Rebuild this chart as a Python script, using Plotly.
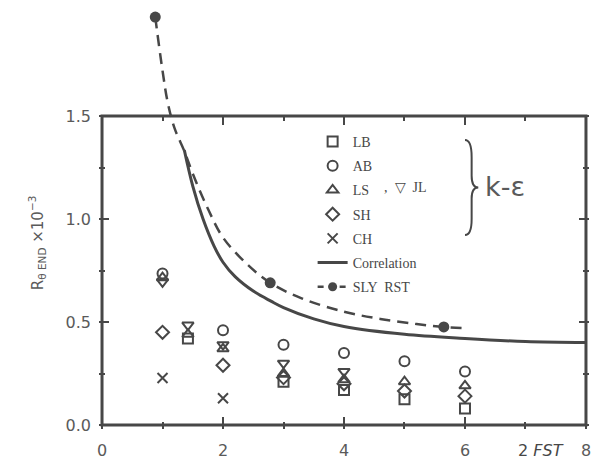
import plotly.graph_objects as go

# ---- data ----
lb_x = [1.42, 3, 4, 5, 6]
lb_y = [0.42, 0.21, 0.17, 0.125, 0.08]
ab_x = [1, 2, 3, 4, 5, 6]
ab_y = [0.735, 0.46, 0.39, 0.35, 0.31, 0.26]
ls_x = [1, 1.42, 2, 3, 4, 5, 6]
ls_y = [0.715, 0.44, 0.37, 0.25, 0.22, 0.21, 0.19]
jl_x = [1, 1.42, 2, 3, 4]
jl_y = [0.695, 0.485, 0.39, 0.30, 0.26]
sh_x = [1, 2, 3, 4, 5, 6]
sh_y = [0.45, 0.29, 0.23, 0.20, 0.165, 0.14]
ch_x = [1, 2]
ch_y = [0.228, 0.13]

corr_x = [1.36, 1.5, 1.67, 1.85, 2.0, 2.2, 2.5, 2.8, 3.0, 3.5, 4.0, 5.0, 6.0, 7.0, 8.0]
corr_y = [1.335, 1.16, 1.0, 0.87, 0.79, 0.72, 0.65, 0.60, 0.57, 0.515, 0.478, 0.44, 0.42, 0.405, 0.40]

rst_line_x = [0.88, 1.0, 1.09, 1.2, 1.36, 1.5, 1.75, 2.0, 2.4, 2.78, 3.3, 4.0, 4.6, 5.2, 5.65, 6.0]
rst_line_y = [1.98, 1.72, 1.56, 1.44, 1.33, 1.22, 1.05, 0.91, 0.78, 0.69, 0.615, 0.55, 0.515, 0.49, 0.476, 0.47]
rst_pts_x = [0.88, 2.78, 5.65]
rst_pts_y = [1.98, 0.69, 0.476]

x_ticks = [0, 2, 4, 6, 8]
x_ticklabels = ["0", "2", "4", "6", "8"]
y_ticks = [0.0, 0.5, 1.0, 1.5]
y_ticklabels = ["0.0", "0.5", "1.0", "1.5"]

INK = "#474747"
TXT = "#5a5a5a"
MS = 10

# pixel geometry
L, R, T, B = 99, 2, 3, 39
PW, PH = 593 - L - R, 468 - T - B


def px_x(p):
    return (p - L) / PW


def px_y(p):
    return (468 - B - p) / PH


fig = go.Figure()


def pts(x, y, name, symbol, group, show=True):
    fig.add_trace(go.Scatter(
        x=x, y=y, mode="markers", name=name, legendgroup=group, showlegend=show,
        marker=dict(symbol=symbol, size=MS, color=INK, line=dict(color=INK, width=2)),
    ))


pts(lb_x, lb_y, "LB", "square-open", "g1")
pts(ab_x, ab_y, "AB", "circle-open", "g2")
pts(ls_x, ls_y, "LS", "triangle-up-open", "g3")
pts(sh_x, sh_y, "SH", "diamond-open", "g4")
pts(ch_x, ch_y, "CH", "x-thin-open", "g5")
pts(jl_x, jl_y, "JL", "triangle-down-open", "g3", show=False)

fig.add_trace(go.Scatter(
    x=corr_x, y=corr_y, mode="lines", name="Correlation", legendgroup="g6",
    line=dict(color=INK, width=3, shape="spline"),
))
fig.add_trace(go.Scatter(
    x=rst_line_x, y=rst_line_y, mode="lines", name="SLY  RST", legendgroup="g7",
    line=dict(color=INK, width=2.5, dash="11px,7px", shape="spline"), showlegend=False,
))
fig.add_trace(go.Scatter(
    x=rst_pts_x, y=rst_pts_y, mode="markers", name="SLY  RST", legendgroup="g7",
    marker=dict(symbol="circle", size=11, color=INK), cliponaxis=False, showlegend=False,
))
fig.add_trace(go.Scatter(
    x=[None], y=[None], mode="lines+markers", name="SLY  RST", legendgroup="g7",
    line=dict(color=INK, width=2.5, dash="6px,5px"),
    marker=dict(symbol="circle", size=9, color=INK),
))
fig.add_trace(go.Scatter(x=[None], y=[None], xaxis="x2", showlegend=False, hoverinfo="skip"))

# frame box (0..8, 0..1.5)
fig.add_shape(type="rect", xref="x", yref="y", x0=0, x1=8, y0=0, y1=1.5,
              line=dict(color=INK, width=3), layer="above")
# brace for k-epsilon group
fig.add_shape(type="path", xref="x", yref="y",
              path="M 6.0,1.383 Q 6.11,1.383 6.11,1.30 L 6.11,1.21 Q 6.11,1.153 6.22,1.153 "
                   "Q 6.11,1.153 6.11,1.10 L 6.11,1.0 Q 6.11,0.922 6.0,0.922",
              line=dict(color=INK, width=2))

fig.add_annotation(text=",  ▽  JL", xref="x", yref="y", x=4.62, y=1.155, xanchor="left",
                   showarrow=False, font=dict(family="Liberation Serif", size=14, color=INK))
fig.add_annotation(text="k-ε", xref="x", yref="y", x=6.3, y=1.16, xanchor="left",
                   showarrow=False, font=dict(family="DejaVu Sans", size=27, color=TXT))
fig.add_annotation(text="2 <i>FST</i>", xref="paper", yref="paper", x=px_x(543), y=px_y(450),
                   xanchor="center", yanchor="middle", showarrow=False,
                   font=dict(family="DejaVu Sans", size=16, color=INK))
fig.add_annotation(text="R<sub>θ END</sub> ×10<sup>−3</sup>", xref="paper", yref="paper",
                   x=px_x(24), y=px_y(292), textangle=-90, showarrow=False,
                   font=dict(family="DejaVu Sans", size=15, color=TXT))

fig.update_layout(
    width=593, height=468,
    margin=dict(l=L, r=R, t=T, b=B),
    plot_bgcolor="white", paper_bgcolor="white",
    showlegend=True,
    legend=dict(x=px_x(313.5), y=px_y(126), xanchor="left", yanchor="top",
                bgcolor="rgba(0,0,0,0)", tracegroupgap=3, itemwidth=30,
                font=dict(family="Liberation Serif", size=14, color=INK)),
    xaxis=dict(range=[-0.05, 8.05], tickvals=x_ticks, ticktext=x_ticklabels,
               ticks="inside", ticklen=12, tickwidth=2, tickcolor=INK,
               minor=dict(tickvals=[1, 3, 5, 7], ticks="inside", ticklen=7, tickwidth=2, tickcolor=INK),
               showline=False, showgrid=False, zeroline=False, ticklabelstandoff=10,
               ticklabeloverflow="allow",
               tickfont=dict(family="DejaVu Sans", size=16, color=TXT)),
    xaxis2=dict(range=[-0.05, 8.05], overlaying="x", anchor="free", position=px_y(116),
                side="top", tickvals=x_ticks, ticks="inside", ticklen=8, tickwidth=2, tickcolor=INK,
                minor=dict(tickvals=[1, 3, 5, 7], ticks="inside", ticklen=4, tickwidth=2, tickcolor=INK),
                showticklabels=False, showline=False, showgrid=False, zeroline=False),
    yaxis=dict(range=[-4 / 206, 422 / 206], tickvals=y_ticks, ticktext=y_ticklabels,
               ticks="inside", ticklen=10, tickwidth=2, tickcolor=INK, mirror="ticks",
               minor=dict(tickvals=[0.25, 0.75, 1.25], ticks="inside", ticklen=6, tickwidth=2, tickcolor=INK),
               showline=False, showgrid=False, zeroline=False, ticklabelstandoff=7,
               tickfont=dict(family="DejaVu Sans", size=16, color=TXT)),
)

fig.write_html("out.html", config={"displayModeBar": False},
               post_script="document.body.style.margin='0px';")
